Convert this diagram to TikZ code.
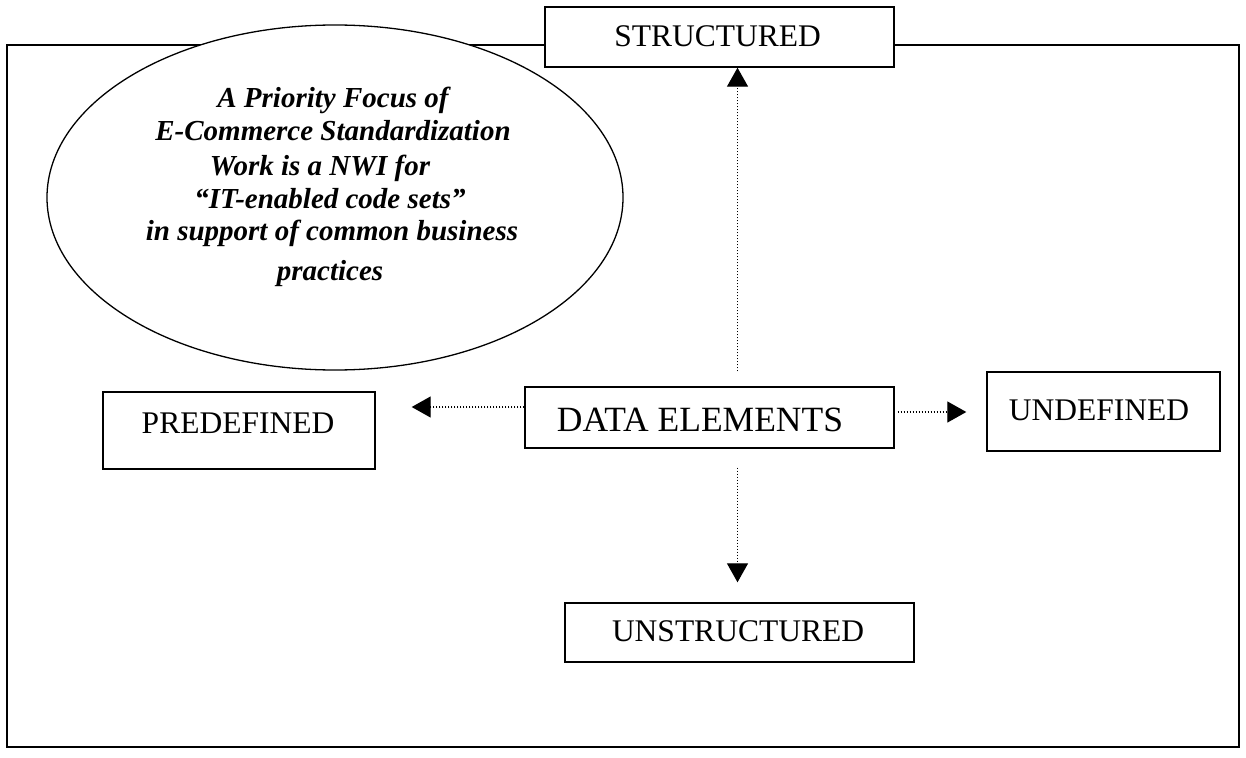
\documentclass[tikz,border=0pt]{standalone}
\usepackage{fontspec}
\setmainfont{Liberation Serif}
\usetikzlibrary{arrows.meta,shapes.geometric}

\tikzset{
  frame/.style={line width=1.2pt},
  box/.style={draw, line width=1.4pt, fill=white, inner sep=0pt},
  boxtext/.style={font=\fontsize{31.5}{36}\selectfont, inner sep=0pt},
  bigtext/.style={font=\fontsize{35.5}{40}\selectfont, inner sep=0pt},
  focustext/.style={font=\fontsize{29}{33}\selectfont\bfseries\itshape, inner sep=0pt, anchor=base},
  conn/.style={line width=1.3pt, dash pattern=on 1.2pt off 1.8pt,
    -{Triangle[length=19pt, width=21pt]}},
}

\begin{document}
\begin{tikzpicture}[x=1pt, y=-1pt]
\useasboundingbox (0,0) rectangle (1246,757);

% outer frame
\draw[frame] (7,45) rectangle (1239,747);

% the focus ellipse, covering the frame's top edge
\node[ellipse, draw, line width=1.3pt, fill=white, inner sep=0pt,
      minimum width=576pt, minimum height=345pt] (focus) at (335,197.5) {};
\node[focustext] (l1) at (333,107) {A Priority Focus of};
\node[focustext] (l2) at (333,140) {E-Commerce Standardization};
\node[focustext] (l3) at (320,175) {Work is a NWI for};
\node[focustext] (l4) at (330,208) {“IT-enabled code sets”};
\node[focustext] (l5) at (332,240) {in support of common business};
\node[focustext] (l6) at (330,280) {practices};

% category boxes and their labels
\node[box, minimum width=349pt, minimum height=60pt] (st) at (719.5,37) {};
\node[boxtext] (sttext) at (717.5,36) {STRUCTURED};
\node[box, minimum width=369pt, minimum height=61pt] (de) at (709.5,417.5) {};
\node[bigtext] (detext) at (700,420) {DATA ELEMENTS};
\node[box, minimum width=272pt, minimum height=77pt] (pd) at (239,430.5) {};
\node[boxtext] (pdtext) at (238,423.5) {PREDEFINED};
\node[box, minimum width=233pt, minimum height=79pt] (ud) at (1103.5,411.5) {};
\node[boxtext] (udtext) at (1099,410) {UNDEFINED};
\node[box, minimum width=349pt, minimum height=59pt] (us) at (739.5,632.5) {};
\node[boxtext] (ustext) at (738,631) {UNSTRUCTURED};

% guide coordinates for the connectors
\coordinate (vx) at (737.5,0);
\coordinate (ly) at (0,407);
\coordinate (ry) at (0,412);

% dotted arrows out of DATA ELEMENTS
\draw[conn, shorten <=15pt] (de.north -| vx) -- (st.south -| vx);
\draw[conn, shorten <=19pt, shorten >=20pt] (de.south -| vx) -- (us.north -| vx);
\draw[conn, shorten >=36pt] (de.west |- ly) -- (pd.east |- ly);
\draw[conn, shorten <=3pt, shorten >=20pt] (de.east |- ry) -- (ud.west |- ry);
\end{tikzpicture}
\end{document}
